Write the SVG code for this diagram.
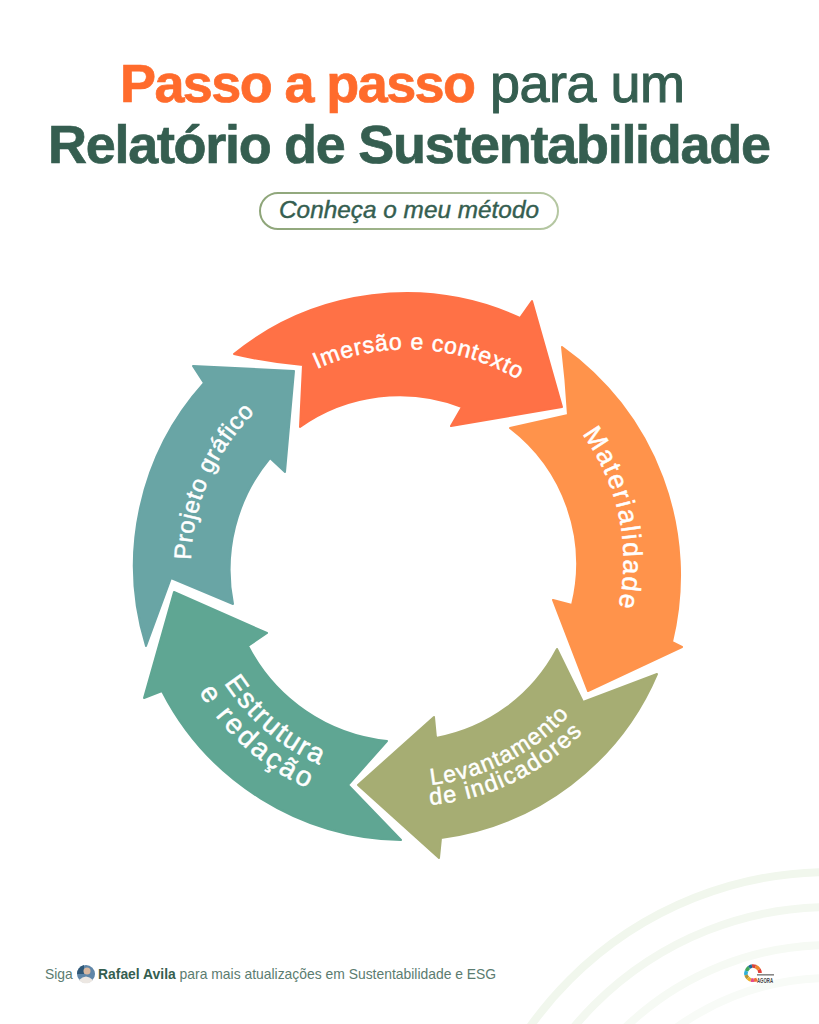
<svg xmlns="http://www.w3.org/2000/svg" width="819" height="1024" viewBox="0 0 819 1024">
<style>
text{font-family:"Liberation Sans",Arial,sans-serif}
.t{font-size:54px;font-weight:700;stroke-width:.7}
.l{fill:#fff;font-weight:400;stroke:#fff;stroke-width:.5}
.bg{fill:none;stroke-width:8}
.a{stroke-linejoin:round;stroke-width:2}
.f{font-size:13.9px;fill:#5b7c70}
.s{fill:none;stroke-width:3.6}
</style>
<defs>
<linearGradient id="pill" x1="0" x2="1" y1="0" y2="0"><stop offset="0" stop-color="#8ea579"/><stop offset="1" stop-color="#b5c7a2"/></linearGradient>
<path id="p1" d="M317 369A217 217 0 0 1 560 412"/>
<path id="p2" d="M582 434A214 214 0 0 1 604 650"/>
<path id="p3" d="M431 785A221 221 0 0 0 585 696"/>
<path id="p3b" d="M430 805A241 241 0 0 0 605 706"/>
<path id="p4" d="M224 683A217 217 0 0 0 360 778"/>
<path id="p4b" d="M199 692A244 244 0 0 0 370 807"/>
<path id="p5" d="M191 560A216 216 0 0 1 330 364"/>
</defs>
<rect width="819" height="1024" fill="#fff"/>
<g id="background">
<circle class="bg" cx="830" cy="1240" r="368" stroke="#f1f7ed"/>
<circle class="bg" cx="830" cy="1240" r="333" stroke="#f3f8f0"/>
<circle class="bg" cx="830" cy="1240" r="295" stroke="#f6faf4"/>
<circle class="bg" cx="830" cy="1240" r="262" stroke="#f8fbf7"/>
</g>
<g id="title">
<text class="t" x="120" y="102" textLength="356" fill="#ff6b2c" stroke="#ff6b2c">Passo a passo</text>
<text class="t" x="490" y="102" textLength="195" fill="#355e50" style="font-weight:400;stroke-width:1" stroke="#355e50">para um</text>
<text class="t" x="48" y="163" textLength="723" fill="#355e50" stroke="#355e50">Relatório de Sustentabilidade</text>
</g>
<g id="subtitle">
<rect x="260" y="193" width="298" height="36" rx="18" fill="#fff" stroke="url(#pill)" stroke-width="2"/>
<text x="279" y="218" textLength="260" lengthAdjust="spacingAndGlyphs" font-size="23" font-style="italic" fill="#355e50" stroke="#355e50" stroke-width=".4">Conheça o meu método</text>
</g>
<g id="connectors"></g>
<g id="node-imersao">
<path class="a" fill="#ff7146" stroke="#ff7146" d="M234 354A274 274 0 0 1 520 318L532 301L562 407L451 426L462 407A172 172 0 0 0 300 427L303 365Q268 362 234 354Z"/>
<text class="l" font-size="23" letter-spacing=".8"><textPath href="#p1">Imersão e contexto</textPath></text>
</g>
<g id="node-materialidade">
<path class="a" fill="#ff934b" stroke="#ff934b" d="M562 347A280 280 0 0 1 672 642L682 647L588 691L553 600L572 605A171 171 0 0 0 510 428L568 415Q566 380 562 347Z"/>
<text class="l" font-size="26.500" letter-spacing="1.900"><textPath href="#p2">Materialidade</textPath></text>
</g>
<g id="node-levantamento">
<path class="a" fill="#a6ad73" stroke="#a6ad73" d="M557 649L583 702L657 674A274 274 0 0 1 441 838L439 858L358 785L434 717L436 738A172 172 0 0 0 557 649Z"/>
<text class="l" font-size="23" letter-spacing="1.100"><textPath href="#p3">Levantamento</textPath></text>
<text class="l" font-size="23.500" letter-spacing="1.500"><textPath href="#p3b">de indicadores</textPath></text>
</g>
<g id="node-estrutura">
<path class="a" fill="#5fa693" stroke="#5fa693" d="M174 592L267 633L248 646A177 177 0 0 0 387 741L348 785L401 840A274 274 0 0 1 162 691L144 698Z"/>
<text class="l" font-size="28" letter-spacing="1.700"><textPath href="#p4">Estrutura</textPath></text>
<text class="l" font-size="28" letter-spacing="2.800"><textPath href="#p4b">e redação</textPath></text>
</g>
<g id="node-projeto">
<path class="a" fill="#69a5a5" stroke="#69a5a5" d="M146 646A273 273 0 0 1 204 383L193 366L294 371L285 472L270 458A175 175 0 0 0 233 604L171 578Z"/>
<text class="l" font-size="24" letter-spacing=".7"><textPath href="#p5">Projeto gráfico</textPath></text>
</g>
<g id="footer">
<text class="f" x="45" y="979">Siga</text>
<circle cx="86" cy="974" r="9" fill="#5f86a8"/>
<path d="M77 974A9 9 0 0 1 84 965L84 974Z" fill="#2f5878"/>
<circle cx="87" cy="971" r="3.500" fill="#d9b8a0"/>
<path d="M79 980Q86 973 93 980A9 9 0 0 1 79 980Z" fill="#ece7e2"/>
<text class="f" x="98" y="979"><tspan font-weight="700" fill="#355e50">Rafael Avila</tspan> para mais atualizações em Sustentabilidade e ESG</text>
</g>
<g id="logo">
<path class="s" stroke="#e5403a" d="M759 969.500A7 7 0 0 1 760 973"/>
<path class="s" stroke="#f0862e" d="M755.500 966.500A7 7 0 0 1 759 969.500"/>
<path class="s" stroke="#d9463e" d="M752 966A7 7 0 0 1 755.500 966.500"/>
<path class="s" stroke="#1d6b9a" d="M749 967.500A7 7 0 0 1 752 966"/>
<path class="s" stroke="#3fa65c" d="M746.500 971A7 7 0 0 1 749 967.500"/>
<path class="s" stroke="#2fb0d8" d="M746 975A7 7 0 0 1 746.500 971"/>
<path class="s" stroke="#b59538" d="M748 978A7 7 0 0 1 746 975"/>
<path class="s" stroke="#eeb02c" d="M751 980A7 7 0 0 1 748 978"/>
<path class="s" stroke="#e54a8f" d="M754 980A7 7 0 0 1 751 980"/>
<path class="s" stroke="#f0703a" d="M757 979.500A7 7 0 0 1 754 980"/>
<rect x="757" y="974" width="17" height="1.600" fill="#888"/>
<text x="757" y="982.500" font-size="8" font-weight="700" fill="#444" textLength="16" lengthAdjust="spacingAndGlyphs">AGORA</text>
</g>
</svg>
